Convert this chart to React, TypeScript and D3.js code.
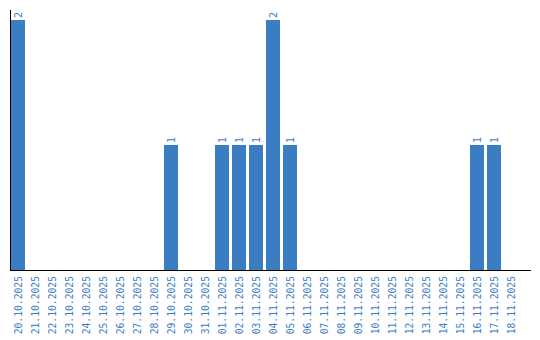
import React from "react";
import * as d3 from "d3";

const dates = [
  "20.10.2025","21.10.2025","22.10.2025","23.10.2025","24.10.2025","25.10.2025",
  "26.10.2025","27.10.2025","28.10.2025","29.10.2025","30.10.2025","31.10.2025",
  "01.11.2025","02.11.2025","03.11.2025","04.11.2025","05.11.2025","06.11.2025",
  "07.11.2025","08.11.2025","09.11.2025","10.11.2025","11.11.2025","12.11.2025",
  "13.11.2025","14.11.2025","15.11.2025","16.11.2025","17.11.2025","18.11.2025",
];
const counts = [2,0,0,0,0,0,0,0,0,1,0,0,1,1,1,2,1,0,0,0,0,0,0,0,0,0,0,1,1,0];

const W = 540, H = 340;
const COLOR = "#3b7dc3";
const FONT = "'DejaVu Sans Mono', 'Liberation Mono', monospace";

export default function App() {
  const x = d3.scaleBand<string>().domain(dates).range([11, 518]).paddingInner(3 / 17).paddingOuter(0);
  const y = d3.scaleLinear().domain([0, 2]).range([270, 20]);
  const data = dates.map((d, i) => ({ d, v: counts[i] }));
  return (
    <svg width={W} height={H} style={{ position: "absolute", left: 0, top: 0 }}>
      <rect width={W} height={H} fill="#fff" />
      {data.filter(e => e.v > 0).map(e => (
        <g key={e.d}>
          <rect x={x(e.d)} y={y(e.v)} width={x.bandwidth()} height={y(0) - y(e.v)} fill={COLOR} />
          <text
            transform={`translate(${(x(e.d) as number) + x.bandwidth() / 2 + 3.5},${y(e.v) - 2}) rotate(-90)`}
            fontFamily={FONT} fontSize={10} fill={COLOR} textAnchor="start"
          >{e.v}</text>
        </g>
      ))}
      <line x1={10.5} x2={10.5} y1={10} y2={270} stroke="#000" strokeWidth={1} />
      <line x1={10} x2={531} y1={270.5} y2={270.5} stroke="#000" strokeWidth={1.2} />
      {dates.map(d => (
        <text key={d}
          transform={`translate(${(x(d) as number) + x.bandwidth() / 2 + 3.5},276) rotate(-90)`}
          fontFamily={FONT} fontSize={9.7} fill={COLOR} textAnchor="end"
        >{d}</text>
      ))}
    </svg>
  );
}
